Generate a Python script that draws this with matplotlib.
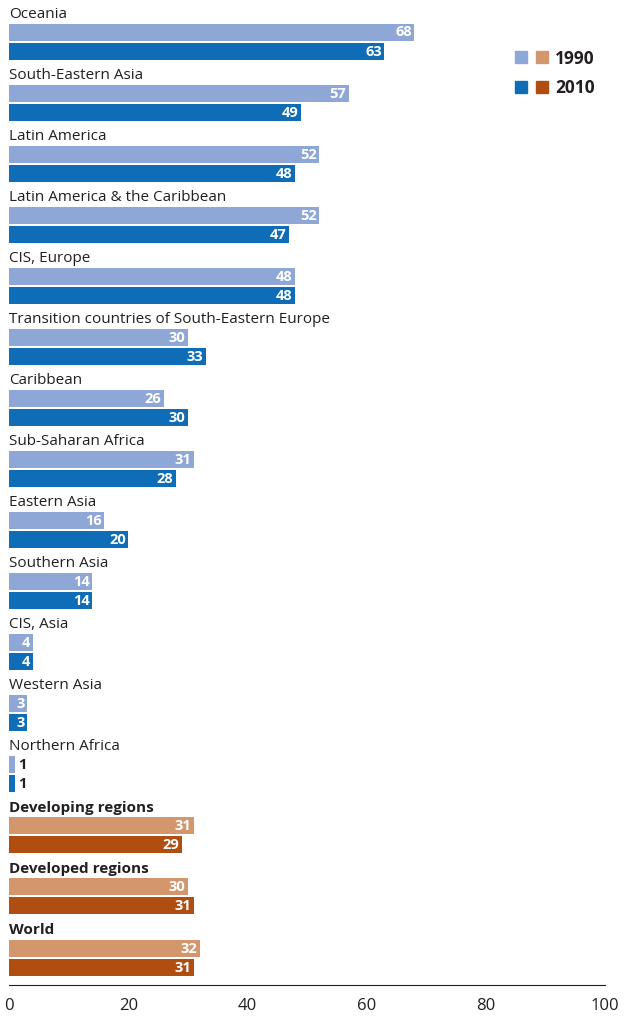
import matplotlib.pyplot as plt
import matplotlib.patches as mpatches

plt.rcParams['font.family'] = ['Open Sans', 'DejaVu Sans']

regions = ["Oceania", "South-Eastern Asia", "Latin America", "Latin America & the Caribbean",
           "CIS, Europe", "Transition countries of South-Eastern Europe", "Caribbean",
           "Sub-Saharan Africa", "Eastern Asia", "Southern Asia", "CIS, Asia", "Western Asia",
           "Northern Africa", "Developing regions", "Developed regions", "World"]
v1990 = [68, 57, 52, 52, 48, 30, 26, 31, 16, 14, 4, 3, 1, 31, 30, 32]
v2010 = [63, 49, 48, 47, 48, 33, 30, 28, 20, 14, 4, 3, 1, 29, 31, 31]
aggregate = [False] * 13 + [True] * 3

# colours
C1990 = "#8FA7D6"
C2010 = "#0F6DB7"
A1990 = "#D4976D"
A2010 = "#B04E12"

W, H = 624, 1017
fig = plt.figure(figsize=(W / 100, H / 100), dpi=100)
ax = fig.add_axes([9 / W, (H - 985) / H, 596 / W, 985 / H])
ax.set_xlim(0, 100)
ax.set_ylim(985, 0)

pitch = 61.07
bh = 17
for i, name in enumerate(regions):
    top = 13 + pitch * i
    c1 = A1990 if aggregate[i] else C1990
    c2 = A2010 if aggregate[i] else C2010
    ax.text(0, top + 1, name, ha="left", va="center", fontsize=11, color="#231f20",
            fontweight="bold" if aggregate[i] else "normal")
    for yc, v, c in [(top + 19, v1990[i], c1), (top + 38, v2010[i], c2)]:
        ax.barh(yc, v, height=bh, color=c, left=0)
        if v >= 2:
            ax.text(v - 0.4, yc + 0.5, str(v), ha="right", va="center", fontsize=10.5,
                    fontweight="bold", color="white")
        else:
            ax.text(v + 0.5, yc + 0.5, str(v), ha="left", va="center", fontsize=10.5,
                    fontweight="bold", color="#231f20")

for s in ["top", "right", "left"]:
    ax.spines[s].set_visible(False)
ax.spines["bottom"].set_color("#231f20")
ax.spines["bottom"].set_linewidth(0.8)
ax.set_yticks([])
ax.set_xticks([0, 20, 40, 60, 80, 100])
ax.tick_params(axis="x", length=0, pad=9, labelsize=12, labelcolor="#231f20")

# legend
for (x, y, c) in [(521, 57, C1990), (542, 57, A1990), (521, 87, C2010), (542, 87, A2010)]:
    fig.patches.append(mpatches.Rectangle(((x - 6) / W, 1 - (y + 6) / H), 12 / W, 12 / H,
                                          transform=fig.transFigure, color=c))
fig.text(555 / W, 1 - 59 / H, "1990", ha="left", va="center", fontsize=12.5, fontweight="bold", color="#231f20")
fig.text(555 / W, 1 - 88 / H, "2010", ha="left", va="center", fontsize=12.5, fontweight="bold", color="#231f20")

fig.savefig("out.png", dpi=100)
